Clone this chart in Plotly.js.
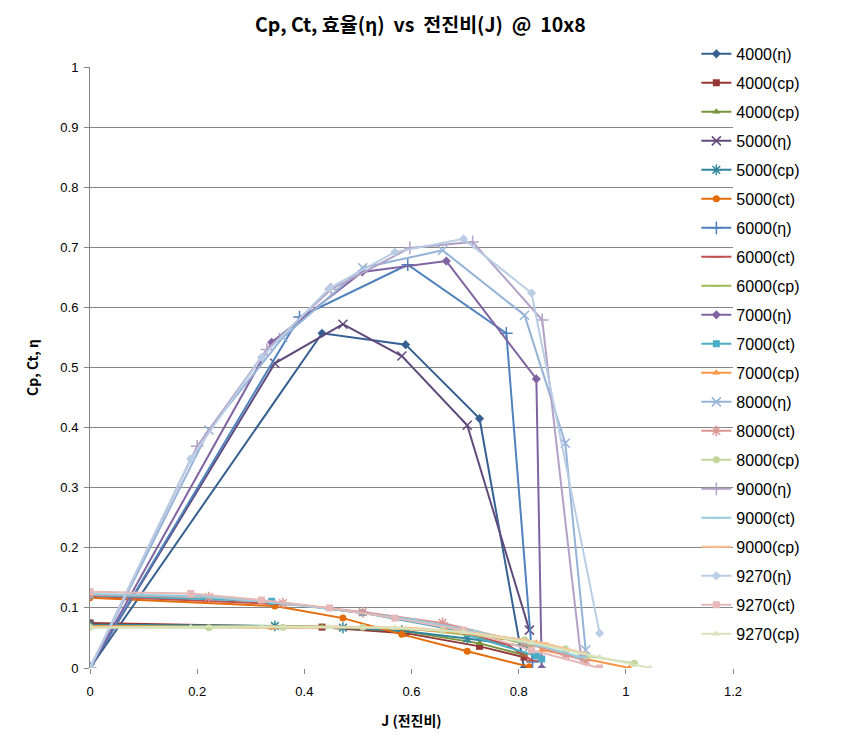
<!DOCTYPE html>
<html>
<head>
<meta charset="utf-8">
<script src="https://cdn.plot.ly/plotly-3.0.1.min.js"></script>
<style>html,body{margin:0;padding:0;background:#fff;}#chart{width:851px;height:754px;}</style>
</head>
<body>
<div id="chart"></div>
<script>
// ---- data ----
const J4000 = [0, 0.433, 0.589, 0.727, 0.81];
const eta4000 = [0, 0.557, 0.538, 0.415, 0.0];
const cpA4000 = [0.075, 0.068, 0.058, 0.036, 0.018];
const cpB4000 = [0.07, 0.069, 0.061, 0.041, 0.022];

const J5000 = [0, 0.345, 0.472, 0.582, 0.704, 0.82];
const eta5000 = [0, 0.507, 0.572, 0.519, 0.404, 0.063];
const cp5000 = [0.072, 0.07, 0.067, 0.062, 0.049, 0.035];
const ct5000 = [0.117, 0.103, 0.083, 0.056, 0.028, 0.002];

const J6000 = [0, 0.391, 0.593, 0.777, 0.826];
const eta6000 = [0, 0.584, 0.671, 0.557, 0.01];
const ct6000 = [0.12, 0.105, 0.082, 0.04, 0.012];
const cp6000 = [0.07, 0.069, 0.066, 0.048, 0.036];

const J7000 = [0, 0.339, 0.508, 0.665, 0.833, 0.843, 1.007];
const eta7000 = [0, 0.542, 0.659, 0.677, 0.481, 0.0, null];
const ct7000 = [0.121, 0.111, 0.092, 0.066, 0.02, 0.015, null];
const cp7000 = [0.07, 0.067, 0.068, 0.061, 0.042, 0.03, 0.0];

const J8000 = [0, 0.222, 0.36, 0.509, 0.658, 0.811, 0.887, 0.925, 1.016];
const eta8000 = [0, 0.396, 0.55, 0.666, 0.695, 0.587, 0.374, 0.03, null];
const ct8000 = [0.122, 0.118, 0.108, 0.093, 0.075, 0.042, 0.022, 0.012, null];
const cp8000 = [0.068, 0.067, 0.068, 0.068, 0.063, 0.047, 0.032, 0.02, 0.008];

const J9000 = [0, 0.2, 0.33, 0.45, 0.597, 0.714, 0.844, 0.916];
const eta9000 = [0, 0.369, 0.53, 0.63, 0.699, 0.709, 0.579, 0.02];
const ct9000 = [0.123, 0.12, 0.11, 0.098, 0.081, 0.062, 0.036, 0.018];
const cp9000 = [0.068, 0.068, 0.069, 0.069, 0.067, 0.059, 0.042, 0.026];

const J9270 = [0, 0.188, 0.32, 0.447, 0.569, 0.697, 0.824, 0.951, 1.045];
const eta9270 = [0, 0.348, 0.517, 0.632, 0.692, 0.714, 0.624, 0.058, null];
const ct9270 = [0.127, 0.124, 0.113, 0.1, 0.083, 0.063, 0.03, 0.0, null];
const cp9270 = [0.067, 0.068, 0.069, 0.068, 0.067, 0.06, 0.042, 0.018, 0.0];

const seriesNames = ['4000(η)','4000(cp)','4000(cp)','5000(η)','5000(cp)','5000(ct)',
  '6000(η)','6000(ct)','6000(cp)','7000(η)','7000(ct)','7000(cp)',
  '8000(η)','8000(ct)','8000(cp)','9000(η)','9000(ct)','9000(cp)',
  '9270(η)','9270(ct)','9270(cp)'];

// ---- styling ----
const series = [
  [J4000, eta4000, '#376092', 'diamond'],
  [J4000, cpA4000, '#953735', 'square'],
  [J4000, cpB4000, '#77933C', 'triangle-up'],
  [J5000, eta5000, '#604A7B', 'x-thin-open'],
  [J5000, cp5000, '#31859C', 'asterisk-open'],
  [J5000, ct5000, '#E46C0A', 'circle'],
  [J6000, eta6000, '#4F81BD', 'cross-thin-open'],
  [J6000, ct6000, '#C0504D', 'line-ew-open'],
  [J6000, cp6000, '#9BBB59', 'line-ew-open'],
  [J7000, eta7000, '#8064A2', 'diamond'],
  [J7000, ct7000, '#4BACC6', 'square'],
  [J7000, cp7000, '#F79646', 'triangle-up'],
  [J8000, eta8000, '#95B3D7', 'x-thin-open'],
  [J8000, ct8000, '#D99694', 'asterisk-open'],
  [J8000, cp8000, '#C3D69B', 'circle'],
  [J9000, eta9000, '#B3A2C7', 'cross-thin-open'],
  [J9000, ct9000, '#93CDDD', 'line-ew-open'],
  [J9000, cp9000, '#FAC090', 'line-ew-open'],
  [J9270, eta9270, '#B9CDE5', 'diamond'],
  [J9270, ct9270, '#E6B9B8', 'square'],
  [J9270, cp9270, '#D7E4BD', 'triangle-up']
];

const traces = series.map((s, i) => {
  const open = s[3].indexOf('open') >= 0;
  return {
    type: 'scatter', mode: 'lines+markers',
    x: s[0], y: s[1], name: seriesNames[i], legendgroup: 'g' + i,
    line: {color: s[2], width: 2},
    marker: {symbol: s[3], size: open ? 9 : 7, color: s[2],
             line: {color: s[2], width: open ? 1.5 : 0}},
    connectgaps: false
  };
});

const layout = {
  width: 851, height: 754,
  margin: {l: 90, r: 118, t: 67, b: 86},
  paper_bgcolor: '#fff', plot_bgcolor: '#fff',
  font: {family: 'Liberation Sans, Arial, sans-serif', color: '#000'},
  title: {text: '<b>Cp, Ct, 효율(η)&nbsp;&nbsp;vs&nbsp;&nbsp;전진비(J)&nbsp;&nbsp;@&nbsp;&nbsp;10x8</b>',
          font: {family: 'Noto Sans CJK KR, sans-serif', size: 19.5, color: '#000'},
          x: 0.494, xanchor: 'center', y: 0.966, yanchor: 'middle'},
  xaxis: {range: [0, 1.2], dtick: 0.2, tick0: 0, showgrid: false, zeroline: false,
          showline: false, ticks: 'outside', ticklen: 5, tickcolor: '#868686',
          tickfont: {size: 13}, ticklabelstandoff: 6,
          title: {text: '<b>J (전진비)</b>', font: {family: 'Noto Sans CJK KR, sans-serif', size: 14}, standoff: 18}},
  yaxis: {range: [0, 1], dtick: 0.1, tick0: 0, showgrid: true, gridcolor: '#868686', gridwidth: 1,
          zeroline: false, showline: true, linecolor: '#868686', linewidth: 1,
          ticks: 'outside', ticklen: 5, tickcolor: '#868686',
          tickfont: {size: 13}, ticklabelstandoff: 3,
          title: {text: '<b>Cp, Ct, η</b>', font: {family: 'Noto Sans CJK KR, sans-serif', size: 14}, standoff: 18}},
  legend: {x: 0.943, xanchor: 'left', y: 1.05, yanchor: 'top', tracegroupgap: 5.2,
           maxheight: 1,
           font: {size: 16, family: 'Liberation Sans, sans-serif'},
           bgcolor: 'rgba(0,0,0,0)'},
  showlegend: true
};

Plotly.newPlot('chart', traces, layout, {displayModeBar: false, staticPlot: true});
</script>
</body>
</html>
